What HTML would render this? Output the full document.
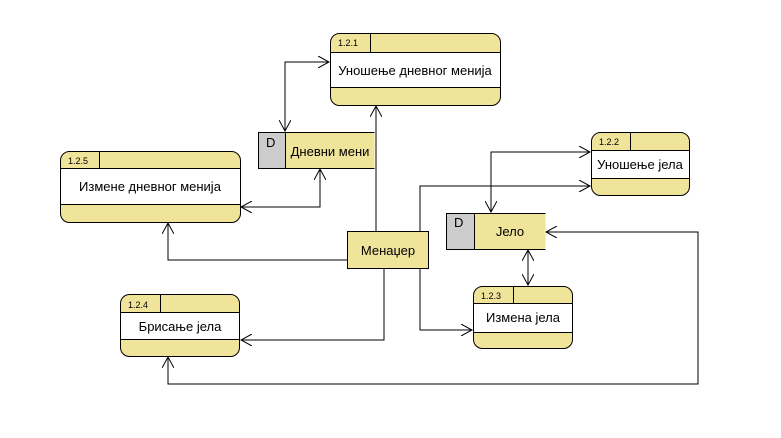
<!DOCTYPE html>
<html><head><meta charset="utf-8"><style>
body{margin:0;background:#fff;}
svg text{font-family:"Liberation Sans","DejaVu Sans",sans-serif;fill:#000;}
</style></head><body>
<svg width="781" height="433" viewBox="0 0 781 433" xmlns="http://www.w3.org/2000/svg">
<defs>
<marker id="a" markerWidth="12" markerHeight="12" refX="11" refY="6" orient="auto" markerUnits="userSpaceOnUse">
<path d="M0,0 L11,6 L0,12" fill="none" stroke="#000" stroke-width="1"/></marker>
<marker id="s" markerWidth="12" markerHeight="12" refX="1" refY="6" orient="auto" markerUnits="userSpaceOnUse">
<path d="M12,0 L1,6 L12,12" fill="none" stroke="#000" stroke-width="1"/></marker>
</defs>
<g fill="none" stroke="#000" stroke-width="1">
<polyline points="285,131 285,62 329,62" marker-start="url(#s)" marker-end="url(#a)"/>
<line x1="376" y1="231" x2="376" y2="106" marker-end="url(#a)"/>
<polyline points="241,207 320,207 320,169" marker-start="url(#s)" marker-end="url(#a)"/>
<polyline points="347,260 168,260 168,223" marker-end="url(#a)"/>
<polyline points="384,268 384,340 241,340" marker-end="url(#a)"/>
<polyline points="420,268 420,330 472,330" marker-end="url(#a)"/>
<polyline points="420,231 420,186 590,186" marker-end="url(#a)"/>
<polyline points="491,212 491,152 590,152" marker-start="url(#s)" marker-end="url(#a)"/>
<line x1="528" y1="250" x2="528" y2="285" marker-start="url(#s)" marker-end="url(#a)"/>
<polyline points="168,357 168,384 698,384 698,232 546,232" marker-start="url(#s)" marker-end="url(#a)"/>
</g>
<g stroke="#000" stroke-width="1">
<rect x="330.5" y="33.5" width="170" height="72" rx="9" fill="#f0e39a"/>
<rect x="330.5" y="52.5" width="170" height="35" fill="#fff"/>
<line x1="370.5" y1="33.5" x2="370.5" y2="52.5"/>
<rect x="591.5" y="132.5" width="98" height="63" rx="9" fill="#f0e39a"/>
<rect x="591.5" y="150.5" width="98" height="28" fill="#fff"/>
<line x1="630.5" y1="132.5" x2="630.5" y2="150.5"/>
<rect x="473.5" y="286.5" width="99" height="62" rx="9" fill="#f0e39a"/>
<rect x="473.5" y="303.5" width="99" height="29" fill="#fff"/>
<line x1="513.5" y1="286.5" x2="513.5" y2="303.5"/>
<rect x="60.5" y="151.5" width="180" height="71" rx="9" fill="#f0e39a"/>
<rect x="60.5" y="168.5" width="180" height="36" fill="#fff"/>
<line x1="99.5" y1="151.5" x2="99.5" y2="168.5"/>
<rect x="120.5" y="294.5" width="119" height="62" rx="9" fill="#f0e39a"/>
<rect x="120.5" y="312.5" width="119" height="27" fill="#fff"/>
<line x1="160.5" y1="294.5" x2="160.5" y2="312.5"/>
<rect x="258.5" y="132.5" width="116" height="36" fill="#f0e39a" stroke="none"/>
<rect x="258.5" y="132.5" width="27" height="36" fill="#cccccc"/>
<polyline points="374.5,132.5 258.5,132.5 258.5,168.5 374.5,168.5" fill="none"/>
<rect x="446.5" y="213.5" width="99" height="36" fill="#f0e39a" stroke="none"/>
<rect x="446.5" y="213.5" width="28" height="36" fill="#cccccc"/>
<polyline points="545.5,213.5 446.5,213.5 446.5,249.5 545.5,249.5" fill="none"/>
<rect x="347.5" y="231.5" width="81" height="37" fill="#f0e39a"/>
</g>
<g font-size="13">
<text x="415" y="75" text-anchor="middle">Уношење дневног менија</text>
<text x="640" y="169" text-anchor="middle">Уношење јела</text>
<text x="523" y="322" text-anchor="middle">Измена јела</text>
<text x="150" y="191" text-anchor="middle">Измене дневног менија</text>
<text x="180" y="331" text-anchor="middle">Брисање јела</text>
<text x="330" y="156" text-anchor="middle">Дневни мени</text>
<text x="510" y="236" text-anchor="middle">Јело</text>
<text x="388" y="255" text-anchor="middle">Менаџер</text>
<text x="266" y="147">D</text>
<text x="454" y="227">D</text>
</g>
<g font-size="9">
<text x="338" y="46">1.2.1</text>
<text x="599" y="145">1.2.2</text>
<text x="481" y="299">1.2.3</text>
<text x="68" y="164">1.2.5</text>
<text x="128" y="308">1.2.4</text>
</g>
</svg>
</body></html>
